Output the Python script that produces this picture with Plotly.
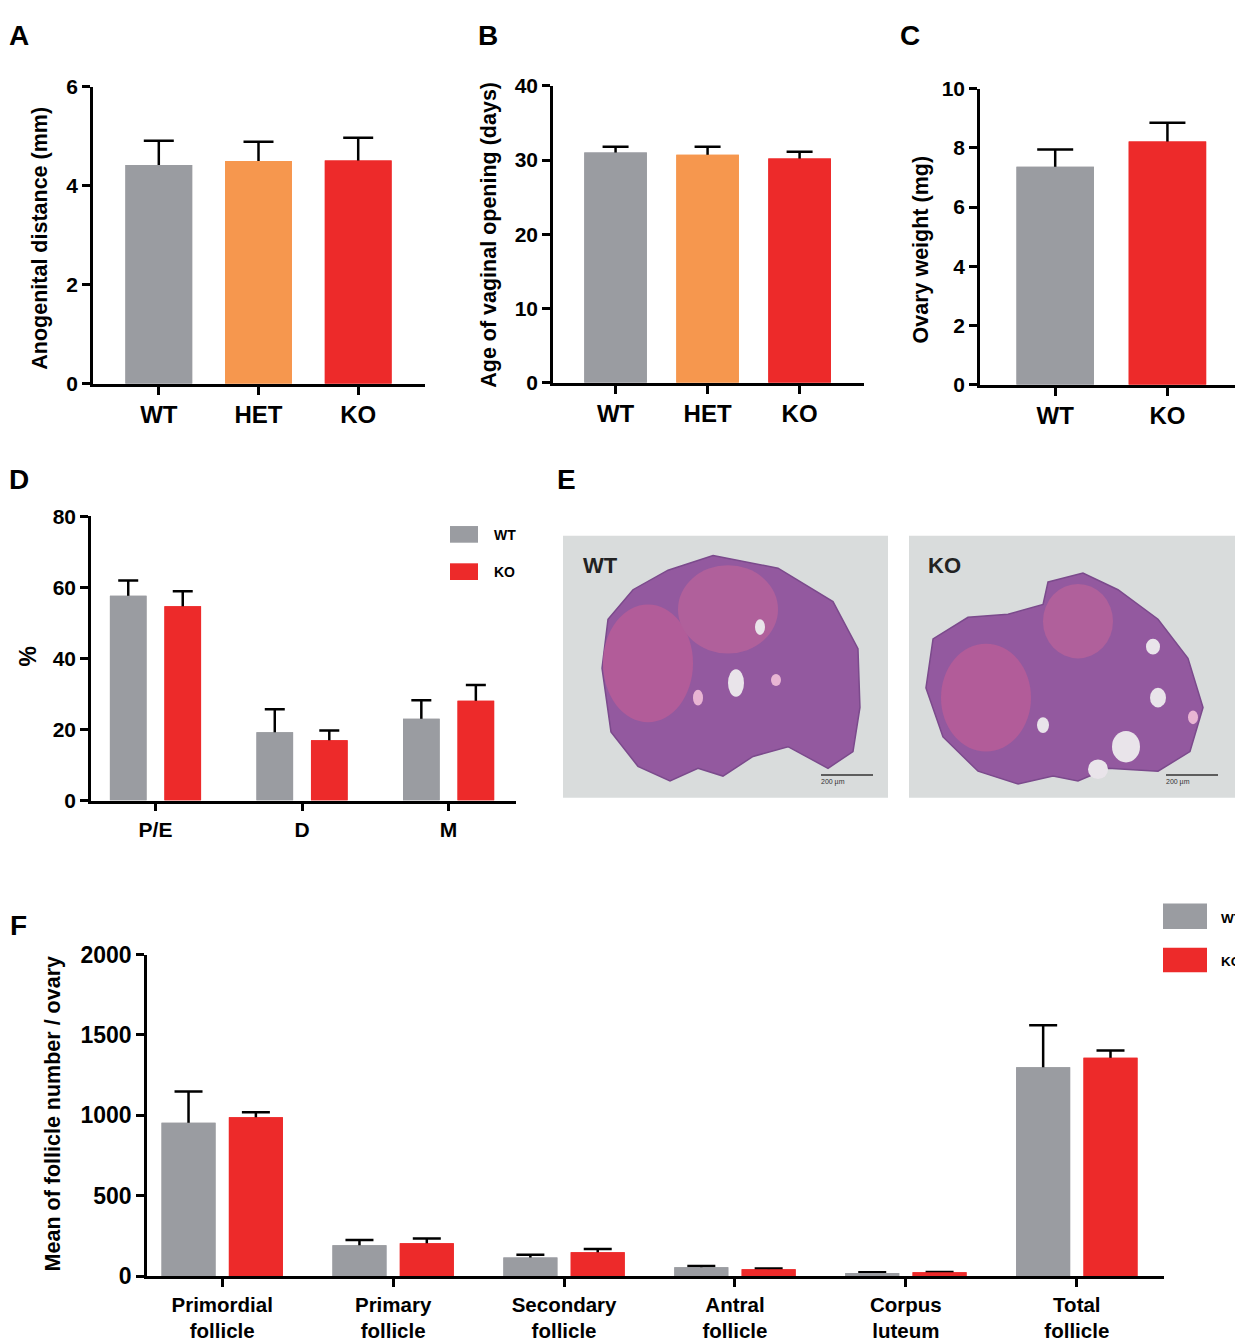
import plotly.graph_objects as go

W, H = 1243, 1344
FONT = "Liberation Sans, Arial, sans-serif"
GREY = "#9a9ca1"
ORANGE = "#f6974e"
RED = "#ed2a2a"

# ---- data ----
a_groups = ["WT", "HET", "KO"]
a_mean = [4.42, 4.50, 4.51]
a_sem = [0.49, 0.39, 0.46]

b_groups = ["WT", "HET", "KO"]
b_mean = [31.0, 30.7, 30.2]
b_sem = [0.8, 1.1, 0.9]

c_groups = ["WT", "KO"]
c_mean = [7.36, 8.22]
c_sem = [0.59, 0.63]

d_stages = ["P/E", "D", "M"]
d_wt = [57.6, 19.2, 23.0]
d_wt_sem = [4.3, 6.5, 5.2]
d_ko = [54.7, 17.0, 28.1]
d_ko_sem = [4.2, 2.7, 4.4]

f_types = ["Primordial<br>follicle", "Primary<br>follicle", "Secondary<br>follicle",
           "Antral<br>follicle", "Corpus<br>luteum", "Total<br>follicle"]
f_wt = [954, 193, 117, 56, 20, 1299]
f_wt_sem = [195, 32, 16, 8, 4, 261]
f_ko = [988, 205, 149, 44, 24, 1359]
f_ko_sem = [32, 30, 20, 4, 3, 45]


def fx(x):
    return x / W


def fy(y):
    return 1 - y / H


def err(sem, cap, ymax):
    # lower end tucked inside the bar, then hidden by a covering bar
    return dict(type="data", symmetric=False, array=sem,
                arrayminus=[0.03 * ymax] * len(sem),
                color="black", thickness=2.5, width=cap)


fig = go.Figure()


def bar(xa, ya, cats, vals, color, width, offset=None, error=None):
    fig.add_trace(go.Bar(x=cats, y=vals, xaxis=xa, yaxis=ya, width=width, offset=offset,
                         marker=dict(color=color, line=dict(width=0)),
                         error_y=error, showlegend=False, hoverinfo="x+y"))


# single-series panels A, B, C
single = [
    ("x", "y", a_groups, a_mean, a_sem, [GREY, ORANGE, RED], 0.67, 15, 6),
    ("x2", "y2", b_groups, b_mean, b_sem, [GREY, ORANGE, RED], 0.68, 13, 40),
    ("x3", "y3", c_groups, c_mean, c_sem, [GREY, RED], 0.69, 18, 10),
]
for xa, ya, cats, mean, sem, cols, w, cap, ymax in single:
    bar(xa, ya, cats, mean, cols, w, error=err(sem, cap, ymax))
    bar(xa, ya, cats, mean, cols, w)

# grouped panels D and F
grouped = [
    ("x4", "y4", d_stages, d_wt, d_wt_sem, d_ko, d_ko_sem, 0.186, 0.25, 10, 80),
    ("x5", "y5", f_types, f_wt, f_wt_sem, f_ko, f_ko_sem, 0.197, 0.316, 14, 2000),
]
for xa, ya, cats, wt, wts, ko, kos, shift, w, cap, ymax in grouped:
    for vals, sem, col, off in [(wt, wts, GREY, -shift - w / 2), (ko, kos, RED, shift - w / 2)]:
        bar(xa, ya, cats, vals, col, w, offset=off, error=err(sem, cap, ymax))
        bar(xa, ya, cats, vals, col, w, offset=off)


def xax(x0, x1, anchor, rng, size):
    return dict(domain=[fx(x0), fx(x1)], anchor=anchor, range=rng, showline=True,
                linecolor="black", linewidth=2.5, ticks="outside", ticklen=8, tickwidth=2.5,
                tickcolor="black", showgrid=False, zeroline=False, fixedrange=True,
                tickfont=dict(family=FONT, size=size, color="black", weight="bold"))


def yax(y0, y1, anchor, rng, dtick, size):
    return dict(domain=[fy(y0), fy(y1)], anchor=anchor, range=rng, dtick=dtick,
                showline=True, linecolor="black", linewidth=2.5, ticks="outside",
                ticklen=8, tickwidth=2.5, tickcolor="black", showgrid=False,
                zeroline=False, fixedrange=True,
                tickfont=dict(family=FONT, size=size, color="black", weight="bold"))


fig.update_layout(
    width=W, height=H, margin=dict(l=0, r=0, t=0, b=0),
    paper_bgcolor="white", plot_bgcolor="white", barmode="overlay",
    font=dict(family=FONT, color="black"),
    xaxis=xax(85, 417, "y", [-0.66, 2.67], 24),
    yaxis=yax(370, 67, "x", [0, 6], 2, 21),
    xaxis2=xax(545, 856, "y2", [-0.68, 2.70], 24),
    yaxis2=yax(369, 66, "x2", [0, 40], 10, 21),
    xaxis3=xax(972, 1238, "y3", [-0.67, 1.70], 24),
    yaxis3=yax(371, 69, "x3", [0, 10], 2, 21),
    xaxis4=xax(83, 508, "y4", [-0.44, 2.46], 21),
    yaxis4=yax(795, 505, "x4", [0, 80], 20, 21),
    xaxis5=xax(139, 1156, "y5", [-0.44, 5.51], 20.5),
    yaxis5=yax(1280, 952, "x5", [0, 2000], 500, 23),
)

ann = []


def text(x, y, s, size, angle=0, xanchor="center", color="black"):
    ann.append(dict(x=fx(x), y=fy(y), xref="paper", yref="paper", text=s, showarrow=False,
                    textangle=angle, xanchor=xanchor, yanchor="middle",
                    font=dict(family=FONT, size=size, color=color, weight="bold")))


# panel letters
for letter, lx, ly in [("A", 11, 15), ("B", 480, 15), ("C", 902, 15),
                       ("D", 11, 468), ("E", 558, 468), ("F", 10, 922)]:
    text(lx, ly, letter, 28)

# axis titles
text(32, 222, "Anogenital distance (mm)", 21.5, -90)
text(481, 218, "Age of vaginal opening (days)", 21.5, -90)
text(913, 233, "Ovary weight (mg)", 21.5, -90)
text(20, 648, "%", 23, -90)
text(45, 1115, "Mean of follicle number / ovary", 21.5, -90)

shapes = []


def rect(x0, y0, x1, y1, color):
    shapes.append(dict(type="rect", xref="paper", yref="paper", x0=fx(x0), x1=fx(x1),
                       y0=fy(y0), y1=fy(y1), fillcolor=color, line=dict(width=0),
                       layer="above"))


# legends drawn as swatches
rect(442, 515, 470, 532, GREY)
rect(442, 553, 470, 570, RED)
text(484, 524, "WT", 14, xanchor="left")
text(484, 562, "KO", 14, xanchor="left")
rect(1155, 900, 1199, 926, GREY)
rect(1155, 945, 1199, 970, RED)
text(1211, 915, "WT", 13.5, xanchor="left")
text(1211, 959, "KO", 13.5, xanchor="left")

# panel E: stand-in for the two histology photographs
wt_outline = [(705, 545), (770, 558), (825, 592), (850, 640), (852, 700), (845, 745),
              (820, 762), (780, 740), (745, 750), (715, 770), (690, 762), (662, 775),
              (630, 760), (603, 725), (594, 660), (600, 610), (625, 580), (660, 560)]
ko_outline = [(1040, 572), (1075, 563), (1110, 580), (1150, 610), (1180, 650),
              (1195, 700), (1182, 745), (1150, 765), (1100, 762), (1070, 775),
              (1045, 770), (1010, 778), (970, 765), (935, 730), (918, 680), (925, 630),
              (960, 608), (1000, 605), (1035, 595)]


def blob(pts):
    d = "M %.4f %.4f " % (fx(pts[0][0]), fy(pts[0][1]))
    d += " ".join("L %.4f %.4f" % (fx(x), fy(y)) for x, y in pts[1:]) + " Z"
    shapes.append(dict(type="path", xref="paper", yref="paper", path=d,
                       fillcolor="#93599f", line=dict(color="#7b4a8c", width=1.5),
                       layer="above"))


def spot(cx, cy, rx, ry, color):
    shapes.append(dict(type="circle", xref="paper", yref="paper", x0=fx(cx - rx),
                       x1=fx(cx + rx), y0=fy(cy + ry), y1=fy(cy - ry), fillcolor=color,
                       line=dict(width=0), layer="above"))


rect(555, 525, 880, 792, "#d9dcdc")
rect(901, 525, 1227, 792, "#d9dcdc")
blob(wt_outline)
blob(ko_outline)
for cx, cy, rx, ry, col in [(640, 655, 45, 60, "#b25c99"), (720, 600, 50, 45, "#b0609b"),
                            (728, 675, 8, 14, "#e9e4ea"), (690, 690, 5, 8, "#e8b5d3"),
                            (768, 672, 5, 6, "#e8b5d3"), (752, 618, 5, 8, "#e9e4ea"),
                            (978, 690, 45, 55, "#b25c99"), (1070, 612, 35, 38, "#b0609b"),
                            (1150, 690, 8, 10, "#e9e4ea"), (1118, 740, 14, 16, "#e9e4ea"),
                            (1090, 763, 10, 10, "#e9e4ea"), (1035, 718, 6, 8, "#e9e4ea"),
                            (1145, 638, 7, 8, "#e9e4ea"), (1185, 710, 5, 7, "#e8b5d3")]:
    spot(cx, cy, rx, ry, col)
for x0 in (813, 1158):
    shapes.append(dict(type="line", xref="paper", yref="paper", x0=fx(x0), x1=fx(x0 + 52),
                       y0=fy(769), y1=fy(769), line=dict(color="#333333", width=1.5),
                       layer="above"))
    ann.append(dict(x=fx(x0 + 26), y=fy(776), xref="paper", yref="paper", text="200 µm",
                    showarrow=False, font=dict(family=FONT, size=7, color="#333333")))
text(573, 555, "WT", 22, xanchor="left", color="#222222")
text(918, 555, "KO", 22, xanchor="left", color="#222222")

fig.update_layout(annotations=ann, shapes=shapes)
fig.write_html("out.html")
